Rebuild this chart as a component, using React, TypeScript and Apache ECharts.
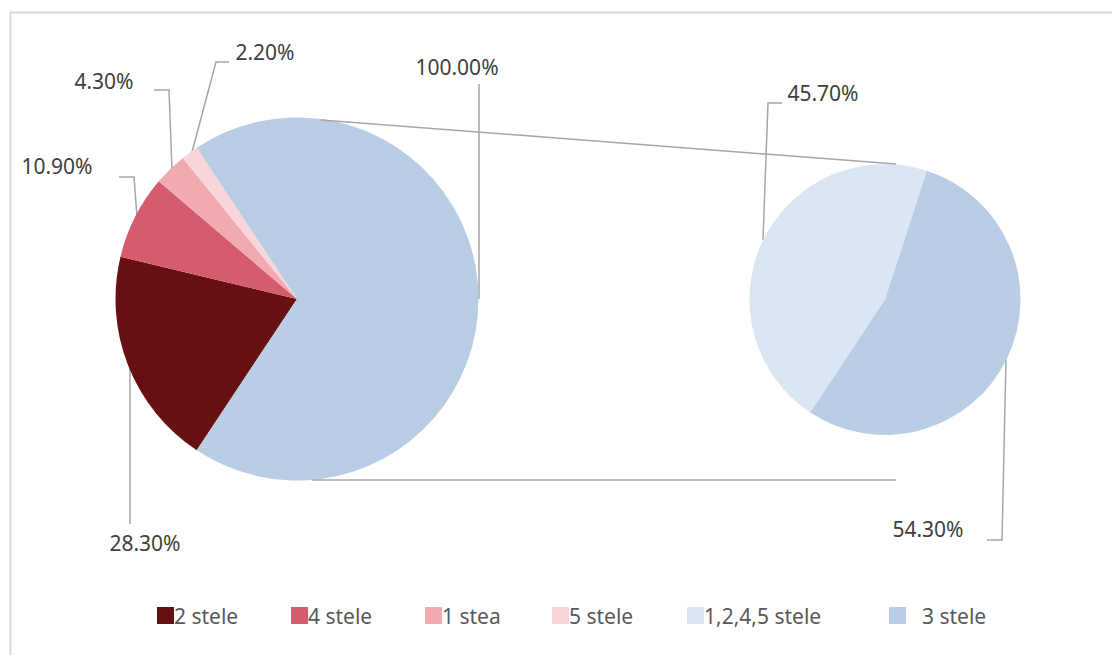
import React, { useEffect, useRef } from "react";
import * as echarts from "echarts";

// ---- data ----
const mainCategories = ["2 stele", "4 stele", "1 stea", "5 stele"];
const mainValues = [28.3, 10.9, 4.3, 2.2];
const secondCategories = ["1,2,4,5 stele", "3 stele"];
const secondValues = [45.7, 54.3];
const otherName = "Other";

const mainColors = ["#671011", "#D55C6F", "#F1ABB0", "#F9D5D9"];
const secondColors = ["#DCE6F2", "#B9CDE5"];
const otherColor = "#B9CDE5";

const FONT = "'Noto Sans', 'Open Sans', sans-serif";

export default function App() {
  const ref = useRef<HTMLDivElement>(null);

  useEffect(() => {
    if (!ref.current) return;
    const chart = echarts.init(ref.current, null, { renderer: "svg" });

    const otherValue = secondValues.reduce((a, b) => a + b, 0);
    const total = mainValues.reduce((a, b) => a + b, 0) + otherValue;
    const otherFrac = otherValue / total;
    const mainStart = 360 - 180 * otherFrac;

    const mainData = mainCategories
      .map((n, i) => ({ name: n, value: mainValues[i], itemStyle: { color: mainColors[i] } }))
      .concat([{ name: otherName, value: otherValue, itemStyle: { color: otherColor } }]);
    const secondData = secondCategories.map((n, i) => ({
      name: n,
      value: secondValues[i],
      itemStyle: { color: secondColors[i] },
    }));

    const mainLabelPos: [number, number][] = [
      [145, 543],
      [57, 166],
      [104, 81],
      [265, 52],
      [457, 67],
    ];
    const mainLinePts: number[][][] = [
      [[130, 368], [130, 524], [130, 524]],
      [[137, 217], [134, 177], [119, 177]],
      [[172, 170], [169, 90], [154, 90]],
      [[192, 152], [216, 62], [229, 62]],
      [[479, 299], [479, 84], [479, 84]],
    ];
    const secLabelPos: [number, number][] = [
      [823, 93],
      [928, 529],
    ];
    const secLinePts: number[][][] = [
      [[763, 240], [768, 103], [782, 103]],
      [[1006, 359], [1002, 540], [987, 540]],
    ];

    const labelStyle = {
      show: true,
      fontFamily: FONT,
      fontSize: 21,
      color: "#404040",
      formatter: (p: any) => p.value.toFixed(2) + "%",
    };
    const lineStyle = { color: "#A6A6A6", width: 1.5 };

    const legendPos = [157, 291, 425, 552, 687, 889];
    const legendNames = mainCategories.concat(secondCategories);
    const legends = legendNames.map((n, i) => ({
      data: [n],
      left: legendPos[i],
      top: 605,
      padding: 0,
      icon: "rect",
      itemWidth: 17,
      itemHeight: 17,
      selectedMode: false,
      textStyle: {
        fontFamily: FONT,
        fontSize: 21,
        color: "#595959",
        padding: [0, 0, 0, i === 5 ? 11 : -5],
      },
    }));

    chart.setOption({
      animation: false,
      backgroundColor: "#FFFFFF",
      legend: legends,
      graphic: [
        {
          type: "rect",
          shape: { x: 10.5, y: 12.5, width: 1120, height: 660 },
          style: { fill: "none", stroke: "#D9D9D9", lineWidth: 2 },
          silent: true,
        },
        {
          type: "line",
          shape: { x1: 321, y1: 120, x2: 896, y2: 164 },
          style: { stroke: "#A6A6A6", lineWidth: 1.5 },
          z: 10,
        },
        {
          type: "line",
          shape: { x1: 312, y1: 480, x2: 896, y2: 480 },
          style: { stroke: "#A6A6A6", lineWidth: 1.5 },
          z: 10,
        },
      ],
      series: [
        {
          type: "pie",
          center: [297, 299],
          radius: [0, 181.5],
          startAngle: mainStart,
          clockwise: true,
          avoidLabelOverlap: false,
          data: mainData,
          label: labelStyle,
          labelLine: { show: true, lineStyle },
          itemStyle: { borderWidth: 0 },
          emphasis: { disabled: true },
          labelLayout: (p: any) => ({
            x: mainLabelPos[p.dataIndex][0],
            y: mainLabelPos[p.dataIndex][1],
            align: "center",
            verticalAlign: "middle",
            labelLinePoints: mainLinePts[p.dataIndex],
          }),
        },
        {
          type: "pie",
          center: [885, 299.5],
          radius: [0, 135.5],
          startAngle: 236.5,
          clockwise: true,
          avoidLabelOverlap: false,
          data: secondData,
          label: labelStyle,
          labelLine: { show: true, lineStyle },
          itemStyle: { borderWidth: 0 },
          emphasis: { disabled: true },
          labelLayout: (p: any) => ({
            x: secLabelPos[p.dataIndex][0],
            y: secLabelPos[p.dataIndex][1],
            align: "center",
            verticalAlign: "middle",
            labelLinePoints: secLinePts[p.dataIndex],
          }),
        },
      ],
    });

    return () => chart.dispose();
  }, []);

  return (
    <div
      ref={ref}
      style={{ position: "fixed", left: 0, top: 0, width: 1112, height: 655 }}
    />
  );
}
